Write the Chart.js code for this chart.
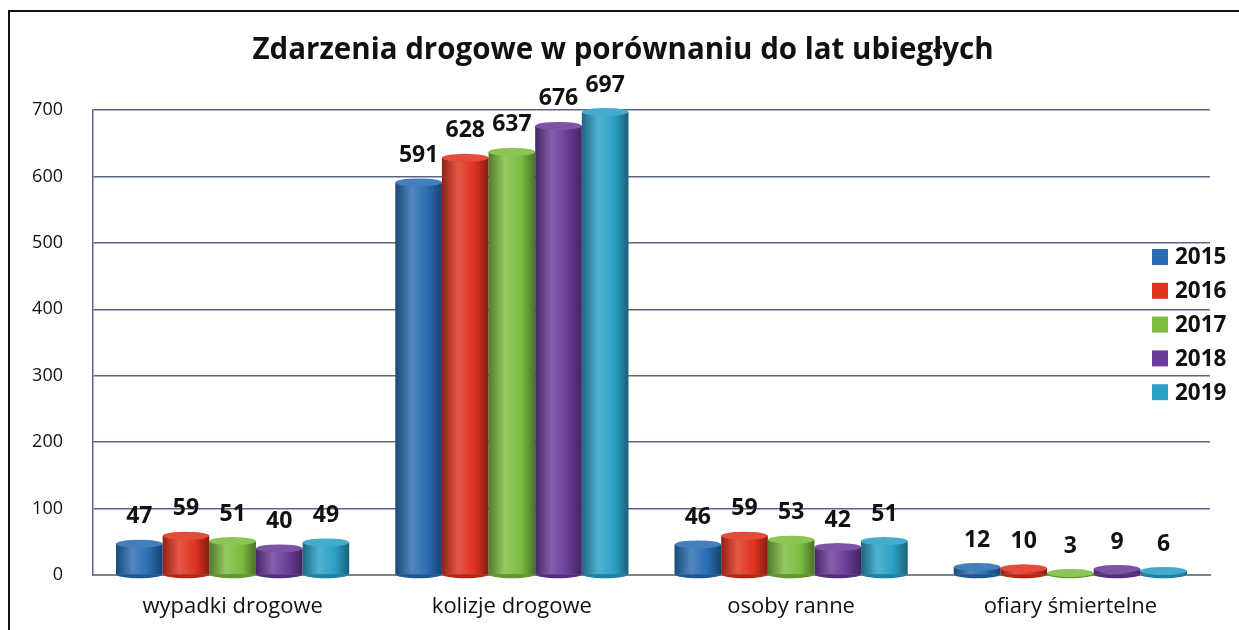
<!DOCTYPE html>
<html>
<head>
<meta charset="utf-8">
<script src="https://cdn.jsdelivr.net/npm/chart.js@4"></script>
<style>
  html, body { margin:0; padding:0; background:#fff; width:1239px; height:630px; overflow:hidden; }
  #frame { position:absolute; left:8px; top:10px; width:1300px; height:700px; border:2px solid #111; box-sizing:border-box; }
  #wrap { position:absolute; left:0; top:0; width:1239px; height:630px; }
</style>
</head>
<body>
<div id="frame"></div>
<div id="wrap"><canvas id="c" width="1239" height="630"></canvas></div>
<script>
const chartTitle = "Zdarzenia drogowe w porównaniu do lat ubiegłych";
const categories = ["wypadki drogowe", "kolizje drogowe", "osoby ranne", "ofiary śmiertelne"];
const years = ["2015", "2016", "2017", "2018", "2019"];
const v2015 = [47, 591, 46, 12];
const v2016 = [59, 628, 59, 10];
const v2017 = [51, 637, 53, 3];
const v2018 = [40, 676, 42, 9];
const v2019 = [49, 697, 51, 6];
const yTicks = [0, 100, 200, 300, 400, 500, 600, 700];

const seriesValues = [v2015, v2016, v2017, v2018, v2019];
const baseColors = ["#2a6db3", "#e0321f", "#7bbd3f", "#6a3c99", "#2aa0c6"];
const FONT = "'Open Sans', 'Noto Sans', sans-serif";

function shade(hex, amt) {
  const n = parseInt(hex.slice(1), 16);
  let r = (n >> 16) & 255, g = (n >> 8) & 255, b = n & 255;
  const f = c => Math.max(0, Math.min(255, Math.round(amt >= 0 ? c + (255 - c) * amt : c * (1 + amt))));
  return `rgb(${f(r)},${f(g)},${f(b)})`;
}

const cylinderPlugin = {
  id: 'cylinder',
  beforeDatasetsDraw(chart) {
    const ctx = chart.ctx;
    chart.data.datasets.forEach((ds, di) => {
      const meta = chart.getDatasetMeta(di);
      const base = baseColors[di];
      meta.data.forEach(el => {
        const l = el.x - el.width / 2, r = el.x + el.width / 2;
        const g = ctx.createLinearGradient(l, 0, r, 0);
        g.addColorStop(0, shade(base, -0.35));
        g.addColorStop(0.35, shade(base, 0.18));
        g.addColorStop(0.7, base);
        g.addColorStop(1, shade(base, -0.4));
        el.options = Object.assign({}, el.options, { backgroundColor: g });
      });
    });
  },
  afterDatasetsDraw(chart) {
    const ctx = chart.ctx;
    chart.data.datasets.forEach((ds, di) => {
      const meta = chart.getDatasetMeta(di);
      const base = baseColors[di];
      meta.data.forEach(el => {
        const rx = el.width / 2, ry = 4;
        ctx.save();
        ctx.beginPath();
        ctx.ellipse(el.x, el.base, rx, ry, 0, 0, Math.PI);
        ctx.fillStyle = shade(base, -0.2);
        ctx.fill();
        ctx.beginPath();
        ctx.ellipse(el.x, el.y, rx, ry, 0, 0, Math.PI * 2);
        ctx.fillStyle = shade(base, 0.12);
        ctx.fill();
        ctx.restore();
      });
    });
  }
};

const labelsPlugin = {
  id: 'valueLabels',
  afterDraw(chart) {
    const ctx = chart.ctx;
    ctx.save();
    ctx.font = `bold 23px ${FONT}`;
    ctx.fillStyle = '#111';
    ctx.textAlign = 'center';
    ctx.textBaseline = 'middle';
    chart.data.datasets.forEach((ds, di) => {
      const meta = chart.getDatasetMeta(di);
      meta.data.forEach((el, i) => {
        ctx.fillText(String(ds.data[i]), el.x, el.y - 27);
      });
    });
    ctx.font = `bold 29.5px ${FONT}`;
    ctx.textBaseline = 'alphabetic';
    ctx.fillText(chartTitle, 623, 59);
    ctx.textAlign = 'left';
    ctx.textBaseline = 'middle';
    ctx.font = `bold 22.5px ${FONT}`;
    chart.data.datasets.forEach((ds, di) => {
      const cy = 257 + di * 33.8;
      ctx.fillStyle = baseColors[di];
      ctx.fillRect(1152, cy - 8, 16, 16);
      ctx.fillStyle = '#111';
      ctx.fillText(ds.label, 1175, cy + 1);
    });
    ctx.restore();
  }
};

new Chart(document.getElementById('c'), {
  type: 'bar',
  data: {
    labels: categories,
    datasets: years.map((y, i) => ({
      label: y,
      data: seriesValues[i],
      backgroundColor: baseColors[i],
      borderWidth: 0,
      categoryPercentage: 0.835,
      barPercentage: 1.0
    }))
  },
  options: {
    responsive: false,
    animation: false,
    devicePixelRatio: 1,
    layout: { padding: { top: 110, right: 29, left: 0, bottom: 0 } },
    plugins: {
      legend: { display: false },
      title: { display: false },
      tooltip: { enabled: false }
    },
    scales: {
      x: {
        grid: { display: false, drawTicks: false },
        border: { display: true, color: '#7a8296', width: 2 },
        ticks: { color: '#111', font: { family: FONT, size: 22 }, padding: 19 },
        afterFit: s => { s.height = 55; }
      },
      y: {
        min: 0, max: 700,
        afterBuildTicks: s => { s.ticks = yTicks.map(v => ({ value: v })); },
        grid: { color: '#5a6784', lineWidth: 1.5, drawTicks: false },
        border: { display: true, color: '#5a6784', width: 1.5 },
        ticks: { color: '#111', font: { family: FONT, size: 18 }, padding: 30 },
        afterFit: s => { s.width = 93; }
      }
    }
  },
  plugins: [cylinderPlugin, labelsPlugin]
});
</script>
</body>
</html>
